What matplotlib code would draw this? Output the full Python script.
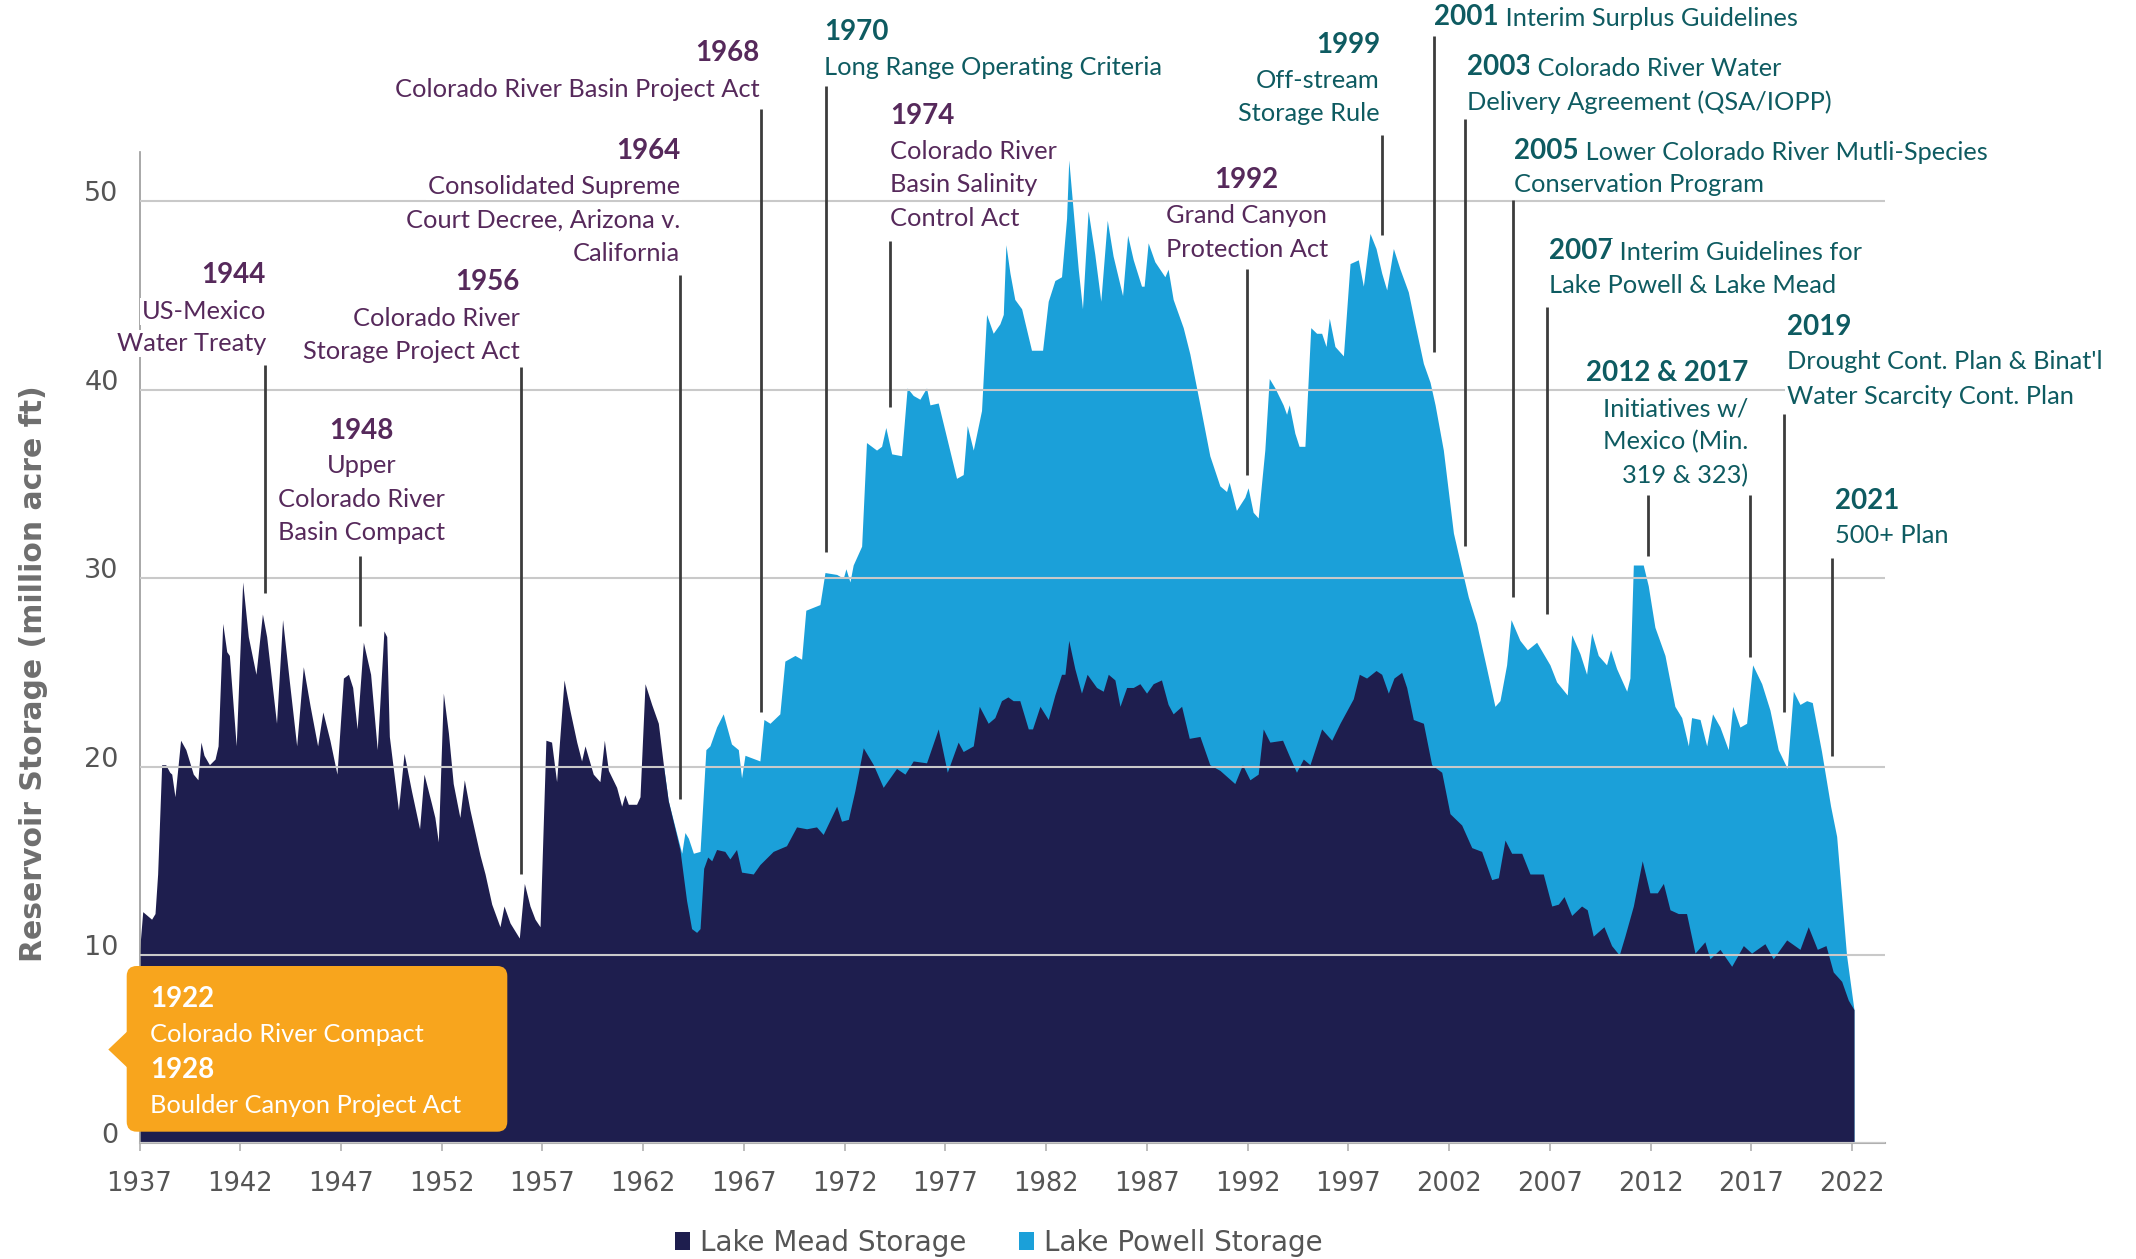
import matplotlib
matplotlib.use("Agg")
import matplotlib.pyplot as plt
from matplotlib.patches import FancyBboxPatch, Polygon, Patch
from matplotlib.transforms import IdentityTransform

# Lake Mead storage (million acre ft)
mead_years = [
    1937.0, 1937.16, 1937.6, 1937.77, 1937.9, 1938.1, 1938.3, 1938.5, 1938.6, 1938.76,
    1939.04, 1939.3, 1939.67, 1939.9, 1940.05, 1940.2, 1940.47, 1940.75, 1940.9, 1941.13,
    1941.33, 1941.46, 1941.8, 1942.12, 1942.4, 1942.78, 1943.1, 1943.31, 1943.8, 1944.1,
    1944.44, 1944.8, 1945.13, 1945.47, 1945.84, 1946.1, 1946.45, 1946.8, 1947.12, 1947.37,
    1947.58, 1947.8, 1948.11, 1948.47, 1948.8, 1949.13, 1949.27, 1949.4, 1949.85, 1950.13,
    1950.5, 1950.9, 1951.12, 1951.5, 1951.66, 1951.83, 1952.08, 1952.33, 1952.57, 1952.9,
    1953.12, 1953.4, 1953.9, 1954.15, 1954.48, 1954.89, 1955.09, 1955.39, 1955.85, 1956.1,
    1956.38, 1956.63, 1956.88, 1957.17, 1957.45, 1957.7, 1958.07, 1958.36, 1958.7, 1958.94,
    1959.11, 1959.52, 1959.85, 1960.07, 1960.27, 1960.68, 1960.93, 1961.09, 1961.26, 1961.67,
    1961.84, 1962.09, 1962.42, 1962.75, 1963.0, 1963.24, 1963.82, 1964.15, 1964.4, 1964.65,
    1964.82, 1965.0, 1965.2, 1965.4, 1965.64, 1966.05, 1966.3, 1966.63, 1966.88, 1967.46,
    1967.79, 1968.45, 1969.11, 1969.61, 1970.11, 1970.6, 1970.93, 1971.6, 1971.84, 1972.18,
    1972.5, 1972.92, 1973.42, 1973.91, 1974.57, 1974.99, 1975.4, 1976.06, 1976.64, 1977.09,
    1977.63, 1977.88, 1978.38, 1978.68, 1979.12, 1979.45, 1979.78, 1980.1, 1980.36, 1980.69,
    1981.11, 1981.32, 1981.69, 1982.1, 1982.43, 1982.76, 1982.93, 1983.12, 1983.42, 1983.75,
    1984.03, 1984.5, 1984.83, 1985.08, 1985.41, 1985.66, 1985.99, 1986.32, 1986.65, 1986.98,
    1987.31, 1987.72, 1988.05, 1988.3, 1988.72, 1989.1, 1989.63, 1990.12, 1990.62, 1991.36,
    1991.74, 1992.11, 1992.52, 1992.77, 1993.1, 1993.73, 1994.05, 1994.42, 1994.76, 1995.09,
    1995.67, 1996.17, 1996.58, 1997.24, 1997.54, 1997.9, 1998.37, 1998.65, 1998.98, 1999.26,
    1999.64, 1999.89, 2000.22, 2000.72, 2001.13, 2001.63, 2002.04, 2002.62, 2003.12, 2003.61,
    2004.11, 2004.44, 2004.77, 2005.1, 2005.6, 2006.01, 2006.67, 2007.09, 2007.42, 2007.7,
    2008.08, 2008.57, 2008.85, 2009.15, 2009.68, 2010.06, 2010.44, 2010.72, 2011.14, 2011.58,
    2011.96, 2012.33, 2012.63, 2012.96, 2013.37, 2013.78, 2014.2, 2014.69, 2014.94, 2015.44,
    2016.02, 2016.6, 2017.01, 2017.67, 2018.08, 2018.75, 2019.41, 2019.82, 2020.27, 2020.7,
    2021.06, 2021.48, 2021.81, 2022.09,
]
mead_storage = [
    10.2, 12.3, 11.9, 12.2, 14.3, 20.1, 20.1, 19.7, 19.6, 18.4,
    21.4, 20.9, 19.6, 19.3, 21.3, 20.6, 20.1, 20.4, 21.1, 27.6,
    26.1, 25.9, 21.1, 29.8, 26.9, 24.9, 28.1, 26.9, 22.3, 27.8,
    24.5, 21.1, 25.3, 23.2, 21.1, 22.9, 21.4, 19.6, 24.7, 24.9,
    24.2, 22.0, 26.6, 24.9, 20.9, 27.2, 26.9, 21.6, 17.7, 20.7,
    18.7, 16.7, 19.6, 18.0, 17.3, 16.0, 23.9, 21.8, 19.1, 17.3,
    19.3, 17.7, 15.3, 14.3, 12.7, 11.5, 12.6, 11.7, 10.9, 13.8,
    12.6, 11.9, 11.5, 21.4, 21.3, 19.2, 24.6, 23.0, 21.3, 20.3,
    21.1, 19.6, 19.2, 21.4, 19.8, 18.9, 17.9, 18.5, 18.0, 18.0,
    18.4, 24.4, 23.3, 22.3, 20.1, 18.2, 15.6, 12.9, 11.4, 11.2,
    11.4, 14.6, 15.2, 15.0, 15.6, 15.5, 15.1, 15.6, 14.4, 14.3,
    14.8, 15.5, 15.8, 16.8, 16.7, 16.8, 16.4, 17.9, 17.1, 17.2,
    18.7, 21.0, 20.1, 18.9, 19.9, 19.6, 20.3, 20.2, 22.0, 19.7,
    21.3, 20.8, 21.1, 23.2, 22.3, 22.6, 23.5, 23.7, 23.5, 23.5,
    22.0, 22.0, 23.2, 22.5, 23.8, 24.9, 24.9, 26.7, 25.2, 23.9,
    24.9, 24.2, 24.0, 24.9, 24.6, 23.2, 24.2, 24.2, 24.4, 23.9,
    24.4, 24.6, 23.3, 22.8, 23.2, 21.5, 21.6, 20.1, 19.8, 19.1,
    20.1, 19.3, 19.6, 22.0, 21.3, 21.4, 20.6, 19.7, 20.4, 20.1,
    22.0, 21.4, 22.3, 23.6, 24.9, 24.7, 25.1, 24.9, 23.9, 24.7,
    25.0, 24.2, 22.5, 22.3, 20.1, 19.7, 17.5, 16.9, 15.7, 15.5,
    14.0, 14.1, 16.1, 15.4, 15.4, 14.3, 14.3, 12.6, 12.7, 13.1,
    12.1, 12.6, 12.4, 11.0, 11.5, 10.5, 10.0, 11.0, 12.6, 15.0,
    13.3, 13.3, 13.8, 12.4, 12.2, 12.2, 10.1, 10.7, 9.8, 10.3,
    9.4, 10.5, 10.1, 10.6, 9.8, 10.8, 10.3, 11.5, 10.3, 10.5,
    9.1, 8.6, 7.6, 7.1,
]

# Lake Mead + Lake Powell storage (top of the light blue area)
combined_years = [
    1963.0, 1963.24, 1963.91, 1964.07, 1964.24, 1964.49, 1964.82, 1965.11, 1965.31, 1965.64,
    1965.97, 1966.38, 1966.72, 1966.88, 1967.05, 1967.79, 1967.99, 1968.29, 1968.78, 1969.03,
    1969.53, 1969.86, 1970.07, 1970.77, 1971.02, 1971.6, 1971.93, 1972.06, 1972.26, 1972.42,
    1972.84, 1973.08, 1973.58, 1973.83, 1974.04, 1974.33, 1974.82, 1975.1, 1975.4, 1975.73,
    1976.06, 1976.23, 1976.64, 1977.05, 1977.55, 1977.88, 1978.08, 1978.38, 1978.79, 1979.04,
    1979.37, 1979.7, 1979.87, 1980.0, 1980.2, 1980.44, 1980.78, 1981.27, 1981.82, 1982.1,
    1982.43, 1982.76, 1983.01, 1983.12, 1983.34, 1983.59, 1983.8, 1984.08, 1984.41, 1984.71,
    1985.03, 1985.32, 1985.79, 1986.04, 1986.32, 1986.73, 1986.86, 1987.06, 1987.39, 1987.89,
    1988.05, 1988.3, 1988.8, 1989.13, 1989.63, 1990.12, 1990.62, 1990.95, 1991.08, 1991.44,
    1991.86, 1992.02, 1992.27, 1992.52, 1992.85, 1993.07, 1993.35, 1993.76, 1993.93, 1994.06,
    1994.34, 1994.55, 1994.84, 1995.13, 1995.42, 1995.67, 1995.89, 1996.05, 1996.33, 1996.75,
    1997.08, 1997.49, 1997.74, 1998.07, 1998.37, 1998.65, 1998.9, 1999.23, 1999.56, 1999.97,
    2000.3, 2000.72, 2001.05, 2001.3, 2001.71, 2002.21, 2002.62, 2002.95, 2003.36, 2003.86,
    2004.27, 2004.52, 2004.85, 2005.07, 2005.51, 2005.88, 2006.34, 2007.0, 2007.33, 2007.86,
    2008.08, 2008.49, 2008.82, 2009.07, 2009.4, 2009.81, 2010.01, 2010.31, 2010.81, 2010.97,
    2011.14, 2011.63, 2011.88, 2012.21, 2012.71, 2013.2, 2013.54, 2013.87, 2014.03, 2014.45,
    2014.78, 2015.07, 2015.44, 2015.85, 2016.07, 2016.43, 2016.76, 2017.06, 2017.51, 2017.92,
    2018.33, 2018.78, 2019.08, 2019.41, 2019.74, 2020.02, 2020.48, 2020.93, 2021.23, 2021.72,
    2022.09,
]
combined_storage = [
    20.1, 18.2, 15.4, 16.5, 16.2, 15.4, 15.5, 20.9, 21.1, 22.1,
    22.8, 21.2, 20.9, 19.4, 20.6, 20.3, 22.5, 22.3, 22.8, 25.6,
    25.9, 25.7, 28.3, 28.6, 30.3, 30.2, 30.0, 30.5, 29.8, 30.7,
    31.7, 37.2, 36.8, 37.0, 38.0, 36.6, 36.5, 40.1, 39.7, 39.5,
    40.1, 39.2, 39.3, 37.5, 35.3, 35.5, 38.1, 36.8, 38.9, 44.0,
    43.0, 43.5, 44.0, 47.7, 46.2, 44.8, 44.3, 42.1, 42.1, 44.7,
    45.8, 46.0, 49.1, 52.2, 49.5, 46.4, 44.3, 49.5, 47.2, 44.7,
    49.0, 47.1, 45.0, 48.2, 46.9, 45.5, 45.5, 47.8, 46.8, 46.0,
    46.4, 44.8, 43.3, 41.9, 39.2, 36.5, 34.9, 34.6, 35.1, 33.6,
    34.3, 34.8, 33.5, 33.2, 36.8, 40.6, 40.1, 39.2, 38.7, 39.2,
    37.7, 37.0, 37.0, 43.3, 43.0, 43.0, 42.3, 43.8, 42.3, 41.8,
    46.7, 46.9, 45.5, 48.3, 47.5, 46.2, 45.3, 47.5, 46.4, 45.2,
    43.5, 41.4, 40.4, 39.2, 36.8, 32.4, 30.5, 29.0, 27.6, 25.2,
    23.2, 23.5, 25.4, 27.8, 26.7, 26.2, 26.6, 25.4, 24.5, 23.8,
    27.0, 26.0, 24.9, 27.1, 25.9, 25.4, 26.2, 25.2, 24.0, 24.7,
    30.7, 30.7, 29.6, 27.4, 25.9, 23.2, 22.6, 21.1, 22.6, 22.5,
    21.1, 22.8, 22.1, 20.9, 23.2, 22.1, 22.3, 25.4, 24.4, 23.0,
    20.9, 19.9, 24.0, 23.3, 23.5, 23.4, 20.8, 17.9, 16.3, 10.0,
    7.1,
]

x_ticks = [1937, 1942, 1947, 1952, 1957, 1962, 1967, 1972, 1977, 1982,
           1987, 1992, 1997, 2002, 2007, 2012, 2017, 2022]
y_ticks = [0, 10, 20, 30, 40, 50]
legend_labels = ["Lake Mead Storage", "Lake Powell Storage"]

# policy milestones: leader x, leader bottom, leader top, text x, alignment, baselines, lines
PURPLE = "#56295b"
TEAL = "#0e5b61"
events = [
    (1943.25, 29.2, 41.3, 1943.28, "right", [45.66, 43.77, 42.04],
     ["1944", "US-Mexico", "Water Treaty"], PURPLE),
    (1947.96, 27.45, 31.2, 1948.03, "center", [37.37, 35.6, 33.8, 32.03],
     ["1948", "Upper", "Colorado River", "Basin Compact"], PURPLE),
    (1955.92, 14.3, 41.2, 1955.88, "right", [45.3, 43.39, 41.61],
     ["1956", "Colorado River", "Storage Project Act"], PURPLE),
    (1963.85, 18.3, 46.1, 1963.84, "right", [52.25, 50.41, 48.62, 46.85],
     ["1964", "Consolidated Supreme", "Court Decree, Arizona v.", "California"], PURPLE),
    (1967.84, 22.9, 54.9, 1967.77, "right", [57.45, 55.54],
     ["1968", "Colorado River Basin Project Act"], PURPLE),
    (1971.06, 31.4, 56.1, 1970.99, "left", [58.59, 56.73],
     ["1970", "Long Range Operating Criteria"], TEAL),
    (1974.27, 39.1, 47.9, 1974.27, "left", [54.13, 52.25, 50.48, 48.69],
     ["1974", "Colorado River", "Basin Salinity", "Control Act"], PURPLE),
    (1991.95, 35.5, 46.4, 1991.95, "center", [50.7, 48.84, 47.06],
     ["1992", "Grand Canyon", "Protection Act"], PURPLE),
    (1998.66, 48.2, 53.55, 1998.56, "right", [57.88, 56.04, 54.25],
     ["1999", "Off-stream", "Storage Rule"], TEAL),
    (2001.27, 42.0, 58.8, 2001.27, "left", [59.35],
     ["2001|Interim Surplus Guidelines"], TEAL),
    (2002.79, 31.7, 54.4, 2002.86, "left", [56.69, 54.85],
     ["2003|Colorado River Water", "Delivery Agreement (QSA/IOPP)"], TEAL),
    (2005.17, 29.0, 50.05, 2005.23, "left", [52.25, 50.48],
     ["2005|Lower Colorado River Mutli-Species", "Conservation Program"], TEAL),
    (2006.85, 28.1, 44.4, 2006.93, "left", [46.95, 45.16],
     ["2007|Interim Guidelines for", "Lake Powell & Lake Mead"], TEAL),
    (2011.88, 31.2, 34.4, 2016.85, "right", [40.47, 38.58, 36.86, 35.02],
     ["2012 & 2017", "Initiatives w/", "Mexico (Min.", "319 & 323)"], TEAL),
    (2016.92, 25.8, 34.4, None, None, [], [], TEAL),
    (2018.63, 22.9, 38.74, 2018.78, "left", [42.91, 41.11, 39.27],
     ["2019", "Drought Cont. Plan & Binat'l", "Water Scarcity Cont. Plan"], TEAL),
    (2021.01, 20.54, 31.06, 2021.14, "left", [33.65, 31.86],
     ["2021", "500+ Plan"], TEAL),
]

W, H = 2136, 1259
NAVY = "#1e1e4e"
BLUE = "#1ba0d9"
ORANGE = "#f8a51d"
ANNOT_FONT = "Lato"
ANNOT_SIZE = 18.3
YEAR_SIZE = 20
AXIS_FONT = "DejaVu Sans"

fig = plt.figure(figsize=(W / 100, H / 100), dpi=100)
ax = fig.add_axes([139.5 / W, 1 - 1143.4 / H, 1745.5 / W, 52.6 * 18.84 / H])

ax.fill_between(combined_years, combined_storage, color=BLUE, lw=0, zorder=1)
ax.fill_between(mead_years, mead_storage, color=NAVY, lw=0, zorder=1.5)

ax.set_xlim(1937, 2023.63)
ax.set_ylim(0, 52.6)
ax.set_axisbelow(False)
ax.yaxis.grid(True, color="#c9c9c9", lw=1.5)
ax.set_xticks(x_ticks)
ax.set_yticks(y_ticks)
ax.set_xticklabels([str(t) for t in x_ticks], family=AXIS_FONT, fontsize=18.5, color="#555555")
ax.set_yticklabels([str(t) for t in y_ticks], family=AXIS_FONT, fontsize=19.5, color="#555555",
                   va="baseline")
ax.tick_params(axis="x", length=6, width=1.2, color="#b0b0b0", pad=14)
ax.tick_params(axis="y", length=0, pad=15)
for side in ["top", "right"]:
    ax.spines[side].set_visible(False)
ax.spines["left"].set_color("#999999")
ax.spines["left"].set_linewidth(1.2)
ax.spines["bottom"].set_color("#b0b0b0")
ax.spines["bottom"].set_linewidth(1.5)

text_box = dict(facecolor="white", edgecolor="none", pad=1.5)
for lx, lbot, ltop, tx, ha, baselines, lines, color in events:
    ax.plot([lx, lx], [lbot, ltop], color="#3c3c3c", lw=2, clip_on=False, zorder=3,
            solid_capstyle="butt")
    for i, (line, yb) in enumerate(zip(lines, baselines)):
        if "|" in line:
            year, rest = line.split("|")
            t = ax.text(tx, yb, year, ha="left", va="baseline", color=color,
                        family=ANNOT_FONT, fontsize=YEAR_SIZE, fontweight="bold",
                        bbox=text_box, zorder=4)
            ax.annotate(" " + rest, xy=(1, 0), xycoords=t, ha="left", va="bottom",
                        color=color, family=ANNOT_FONT, fontsize=ANNOT_SIZE,
                        bbox=text_box, zorder=4)
        elif i == 0:
            ax.text(tx, yb, line, ha=ha, va="baseline", color=color, family=ANNOT_FONT,
                    fontsize=YEAR_SIZE, fontweight="bold", bbox=text_box, zorder=4)
        else:
            ax.text(tx, yb, line, ha=ha, va="baseline", color=color, family=ANNOT_FONT,
                    fontsize=ANNOT_SIZE, bbox=text_box, zorder=4)

# orange call-out box (pixel coordinates, origin at the top left)
def px(x, y):
    return (x, H - y)

box = FancyBboxPatch(px(126.7, 1131.7), 507.3 - 126.7, 1131.7 - 966,
                     boxstyle="round,pad=0,rounding_size=10", transform=IdentityTransform(),
                     facecolor=ORANGE, edgecolor="none", zorder=5)
fig.add_artist(box)
fig.add_artist(Polygon([px(127, 1031.7), px(108.3, 1049.5), px(127, 1067.3)], closed=True,
                       transform=IdentityTransform(), facecolor=ORANGE, edgecolor="none",
                       zorder=5))
box_lines = [("1922", 1006.7, True), ("Colorado River Compact", 1041.7, False),
             ("1928", 1078.3, True), ("Boulder Canyon Project Act", 1112.7, False)]
for s, yb, is_year in box_lines:
    fig.text(150 / W, 1 - yb / H, s, ha="left", va="baseline", color="white",
             family=ANNOT_FONT, fontsize=YEAR_SIZE if is_year else ANNOT_SIZE,
             fontweight="bold" if is_year else "normal", zorder=6)

fig.text(34 / W, 1 - 674 / H, "Reservoir Storage (million acre ft)", rotation=90,
         ha="center", va="center", family=AXIS_FONT, fontweight="bold",
         fontsize=21.5, color="#6e6e6e")

handles = [Patch(facecolor=NAVY, edgecolor="none"), Patch(facecolor=BLUE, edgecolor="none")]
leg = fig.legend(handles, legend_labels, loc="center", bbox_to_anchor=(998.5 / W, 1 - 1243 / H),
                 ncol=2, frameon=False, handlelength=0.55, handleheight=0.6,
                 handletextpad=0.35, columnspacing=1.9,
                 prop={"family": AXIS_FONT, "size": 20})
for txt in leg.get_texts():
    txt.set_color("#555555")

fig.savefig("out.png", dpi=100)
